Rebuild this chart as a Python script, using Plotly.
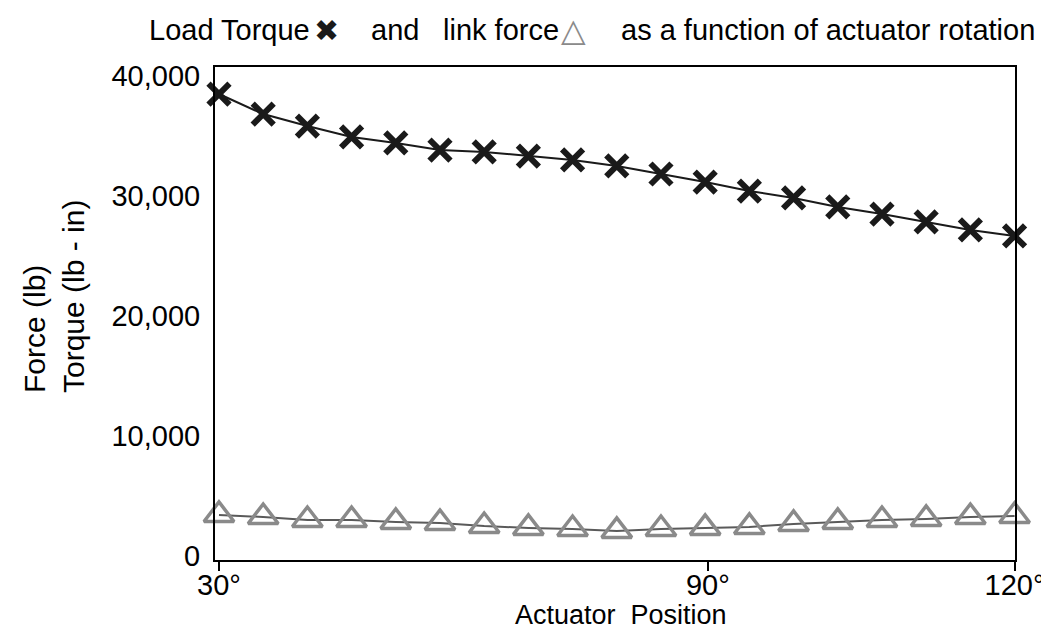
import plotly.graph_objects as go

# ---- data ----
angle_deg = [30, 35, 40, 45, 50, 55, 60, 65, 70, 75, 80, 85, 90, 95, 100, 105, 110, 115, 120]
load_torque = [38480, 36810, 35810, 34900, 34400, 33810, 33650, 33310, 32980, 32480,
               31810, 31140, 30390, 29810, 29060, 28470, 27810, 27140, 26640]
link_force = [3370, 3200, 2950, 2950, 2790, 2700, 2450, 2290, 2200, 2040,
              2200, 2290, 2370, 2620, 2790, 2950, 3040, 3200, 3290]

x_tick_vals = [30, 85.3, 120]
x_tick_text = ["30°", "90°", "120°"]
y_tick_vals = [0, 10000, 20000, 30000, 40000]
y_tick_text = ["0", "10,000", "20,000", "30,000", "40,000"]

FONT = "Arial, 'Liberation Sans', sans-serif"

fig = go.Figure()

fig.add_trace(go.Scatter(
    x=angle_deg, y=link_force, mode="lines+markers",
    line=dict(color="#5a5a5a", width=2),
    marker=dict(symbol="triangle-up-open", size=26, color="#8a8a8a",
                line=dict(color="#8a8a8a", width=3.5)),
    cliponaxis=False, showlegend=False,
))
fig.add_trace(go.Scatter(
    x=angle_deg, y=load_torque, mode="lines+markers",
    line=dict(color="#1a1a1a", width=2),
    marker=dict(symbol="x-thin", size=21, color="#1a1a1a",
                line=dict(color="#1a1a1a", width=6)),
    cliponaxis=False, showlegend=False,
))

fig.update_xaxes(
    range=[29.55, 120.05], tickvals=x_tick_vals, ticktext=x_tick_text,
    showgrid=False, zeroline=False, showline=True, mirror=True,
    linecolor="black", linewidth=2, ticks="outside", ticklen=9, tickwidth=2,
    tickcolor="black", ticklabelstandoff=-11,
    tickfont=dict(family=FONT, size=29, color="black"),
)
fig.update_yaxes(
    range=[-384, 40734], tickvals=y_tick_vals, ticktext=y_tick_text,
    showgrid=False, zeroline=False, showline=True, mirror=True,
    linecolor="black", linewidth=2, ticks="", ticklabelstandoff=7,
    tickfont=dict(family=FONT, size=29, color="black"),
)

W, H = 1049, 630
ML, MR, MT, MB = 207, 37, 59, 78
PW, PH = W - ML - MR, H - MT - MB


def px(xp):
    return (xp - ML) / PW


def py(yp):
    return (H - MB - yp) / PH


annotations = []
# title pieces
title_parts = [
    ("Load Torque", 139, "black", 29, FONT),
    ("✖", 305, "#1a1a1a", 30, "DejaVu Sans"),
    ("and", 362, "black", 29, FONT),
    ("link force", 434, "black", 29, FONT),
    ("<b>△</b>", 553, "#8a8a8a", 32, "DejaVu Sans"),
    ("as a function of actuator rotation", 614, "black", 29, FONT),
]
for txt, xpos, col, sz, fam in title_parts:
    annotations.append(dict(
        text=txt, xref="paper", yref="paper", x=px(xpos), y=py(22),
        xanchor="left", yanchor="middle", showarrow=False,
        font=dict(family=fam, size=sz, color=col),
    ))

# x axis title
annotations.append(dict(
    text="Actuator  Position", xref="paper", yref="paper", x=px(616), y=py(607),
    xanchor="center", yanchor="middle", showarrow=False,
    font=dict(family=FONT, size=27, color="black"),
))
# y axis title (two lines, left aligned, rotated)
annotations.append(dict(
    text="Force (lb)<br>Torque (lb - in)", xref="paper", yref="paper",
    x=px(45), y=py(289), xanchor="center", yanchor="middle", showarrow=False,
    textangle=-90, align="left",
    font=dict(family=FONT, size=30, color="black"),
))

fig.update_layout(
    width=W, height=H, margin=dict(l=ML, r=MR, t=MT, b=MB),
    plot_bgcolor="white", paper_bgcolor="white",
    annotations=annotations,
)

fig.write_html("out.html")
